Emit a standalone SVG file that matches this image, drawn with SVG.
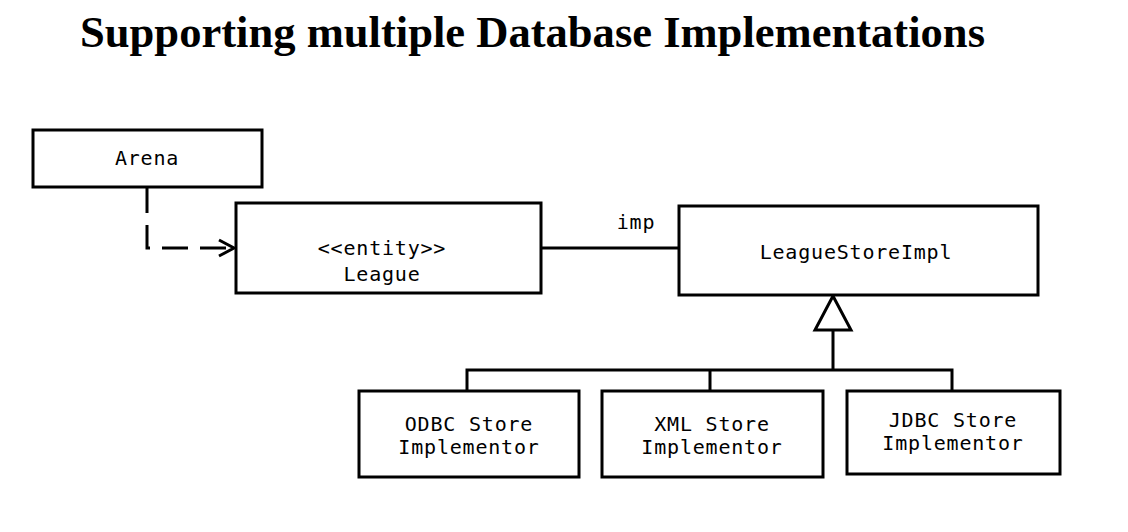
<svg xmlns="http://www.w3.org/2000/svg" width="1128" height="532" viewBox="0 0 1128 532">
<style>
.box{fill:#fff;stroke:#000;stroke-width:3}
.t{font-family:"DejaVu Sans Mono","Liberation Mono",monospace;font-size:20px;letter-spacing:0.8px;text-anchor:middle;fill:#000}
.ln{fill:none;stroke:#000;stroke-width:3}
.title{font-family:"Liberation Serif",serif;font-weight:bold;font-size:44px;fill:#000}
</style>
<rect width="1128" height="532" fill="#fff"/>
<text class="title" x="80" y="47" textLength="905" lengthAdjust="spacingAndGlyphs">Supporting multiple Database Implementations</text>
<g id="connectors">
<path class="ln" d="M147,187 V248 H232" stroke-dasharray="26,12"/>
<path class="ln" d="M219,240 L234,248 L219,256"/>
<path class="ln" d="M541,248 H679"/>
<text class="t" x="636" y="229">imp</text>
<path class="ln" d="M833,330 V370 M467,390 V370 H952 V390 M710,370 V390"/>
<polygon class="box" points="833,296 815,330 851,330"/>
</g>
<g id="arena"><rect class="box" x="33" y="130" width="229" height="57"/><text class="t" x="147" y="165">Arena</text></g>
<g id="league"><rect class="box" x="236" y="203" width="305" height="90"/><text class="t" x="382" y="255">&lt;&lt;entity&gt;&gt;</text><text class="t" x="382" y="281">League</text></g>
<g id="leaguestoreimpl"><rect class="box" x="679" y="206" width="359" height="89"/><text class="t" x="856" y="259">LeagueStoreImpl</text></g>
<g id="odbc"><rect class="box" x="359" y="391" width="220" height="86"/><text class="t" x="469" y="431">ODBC Store</text><text class="t" x="469" y="454">Implementor</text></g>
<g id="xml"><rect class="box" x="602" y="391" width="221" height="86"/><text class="t" x="712" y="431">XML Store</text><text class="t" x="712" y="454">Implementor</text></g>
<g id="jdbc"><rect class="box" x="847" y="391" width="213" height="83"/><text class="t" x="953" y="427">JDBC Store</text><text class="t" x="953" y="450">Implementor</text></g>
</svg>
